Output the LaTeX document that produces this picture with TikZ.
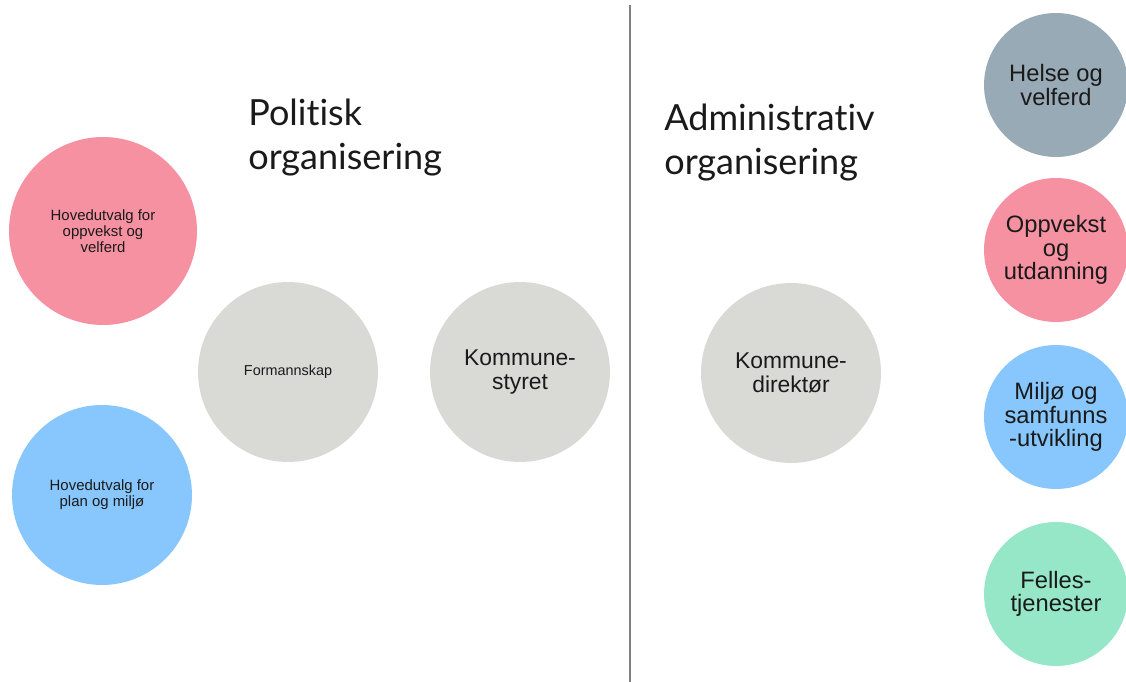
\documentclass[tikz,border=0pt]{standalone}
\usepackage{fontspec}
\setmainfont{Liberation Sans}
\newfontfamily\titlefont[Ligatures={NoCommon,NoRare}]{Lato}

\definecolor{rosa}{HTML}{F691A2}
\definecolor{himmel}{HTML}{87C7FE}
\definecolor{lysgraa}{HTML}{D9D9D5}
\definecolor{skifer}{HTML}{98AAB6}
\definecolor{mynte}{HTML}{95E7C8}
\definecolor{skrift}{HTML}{1A1A1A}
\definecolor{strek}{HTML}{808080}

\tikzset{
  bubble/.style={circle, draw=none, inner sep=0pt, align=center, text=skrift, minimum size=3.6cm},
  smallbubble/.style={bubble, minimum size=2.88cm, font=\fontsize{13.5}{13.5}\selectfont},
  heading/.style={anchor=north west, inner sep=0pt, align=left, text=skrift, font=\titlefont\fontsize{20.5}{25}\selectfont}
}

\begin{document}
\begin{tikzpicture}[x=0.02cm, y=-0.02cm]
\useasboundingbox[fill=white] (0,0) rectangle (1126,682);

\draw[strek, line width=0.6pt] (630,5) -- (630,682);

\node[heading] (politisk) at (248,99) {Politisk\\organisering};
\node[heading] (admin) at (664,104) {Administrativ\\organisering};

\node[bubble, fill=rosa, minimum size=3.76cm, font=\fontsize{8.5}{9.2}\selectfont] (oppvekstutvalg) at (103,231) {Hovedutvalg for\\oppvekst og\\velferd};
\node[bubble, fill=himmel, font=\fontsize{8.5}{9.2}\selectfont] (planutvalg) at (102,495) {Hovedutvalg for\\plan og milj\o};
\node[bubble, fill=lysgraa, font=\fontsize{8.2}{9}\selectfont] (formannskap) at (288,372) {Formannskap};
\node[bubble, fill=lysgraa, font=\fontsize{13}{13.5}\selectfont] (styret) at (520,372) {Kommune-\\styret};
\node[bubble, fill=lysgraa, font=\fontsize{13}{13.5}\selectfont] (direktor) at (791,373) {Kommune-\\direkt\o r};

\node[smallbubble, fill=skifer] (helse) at (1056,85) {Helse og\\velferd};
\node[smallbubble, fill=rosa] (oppvekst) at (1056,250) {Oppvekst\\og\\utdanning};
\node[smallbubble, fill=himmel] (miljo) at (1056,417) {Milj\o\ og\\samfunns\\-utvikling};
\node[smallbubble, fill=mynte] (felles) at (1056,594) {Felles-\\tjenester};
\end{tikzpicture}
\end{document}
